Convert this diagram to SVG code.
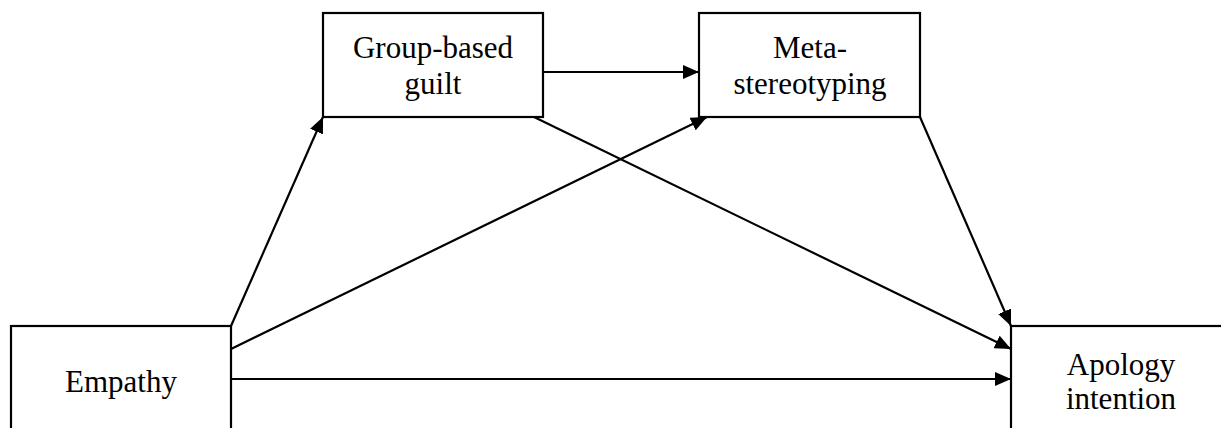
<svg xmlns="http://www.w3.org/2000/svg" width="1221" height="428" viewBox="0 0 1221 428">
<style>
.box{fill:#fff;stroke:#000;stroke-width:2.2}
.lbl{font-family:"Liberation Serif","Times New Roman",serif;font-size:31px;fill:#000;text-anchor:middle}
.edge{stroke:#000;stroke-width:2.2;fill:none;marker-end:url(#ah)}
</style>
<defs>
<marker id="ah" markerUnits="userSpaceOnUse" markerWidth="16" markerHeight="14" refX="16" refY="7" orient="auto">
<path d="M0,0 L16,7 L0,14 z" fill="#000"/>
</marker>
</defs>
<g id="empathy">
<rect class="box" x="11" y="326" width="220" height="120"/>
<text class="lbl" x="121" y="392">Empathy</text>
</g>
<g id="guilt">
<rect class="box" x="323" y="13" width="220" height="104"/>
<text class="lbl" x="433" y="58">Group-based</text>
<text class="lbl" x="433" y="94">guilt</text>
</g>
<g id="meta">
<rect class="box" x="699" y="13" width="221" height="104"/>
<text class="lbl" x="810" y="58">Meta-</text>
<text class="lbl" x="810" y="94">stereotyping</text>
</g>
<g id="apology">
<rect class="box" x="1011" y="326" width="230" height="120"/>
<text class="lbl" x="1121" y="375">Apology</text>
<text class="lbl" x="1121" y="409">intention</text>
</g>
<g id="connectors">
<line class="edge" x1="231" y1="326" x2="323" y2="117"/>
<line class="edge" x1="231" y1="349" x2="707" y2="117"/>
<line class="edge" x1="231" y1="379" x2="1011" y2="379"/>
<line class="edge" x1="543" y1="72" x2="699" y2="72"/>
<line class="edge" x1="534" y1="117" x2="1011" y2="349"/>
<line class="edge" x1="920" y1="117" x2="1011" y2="326"/>
</g>
</svg>
